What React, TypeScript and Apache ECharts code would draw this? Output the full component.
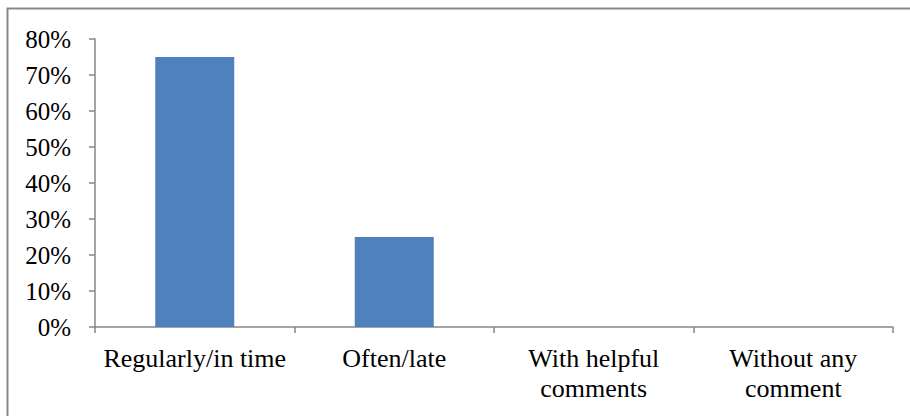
import React, { useEffect, useRef } from "react";
import * as echarts from "echarts";

const categories = ["Regularly/in time", "Often/late", "With helpful\ncomments", "Without any\ncomment"];
const values = [75, 25, 0, 0];
const yMin = 0;
const yMax = 80;
const yInterval = 10;

export default function App() {
  const ref = useRef<HTMLDivElement>(null);
  useEffect(() => {
    if (!ref.current) return;
    const chart = echarts.init(ref.current, undefined, { renderer: "svg" });
    const font = "'Liberation Serif', 'Times New Roman', serif";
    chart.setOption({
      animation: false,
      backgroundColor: "#ffffff",
      graphic: [
        {
          type: "rect",
          shape: { x: 7.5, y: 8.5, width: 960, height: 460 },
          style: { fill: "none", stroke: "#878787", lineWidth: 2 },
          silent: true,
        },
      ],
      grid: { left: 95, right: 17, top: 39, bottom: 89, containLabel: false },
      xAxis: {
        type: "category",
        data: categories,
        axisLine: { show: true, lineStyle: { color: "#878787", width: 1.5 } },
        axisTick: { show: true, length: 6, lineStyle: { color: "#878787", width: 1.5 } },
        axisLabel: {
          color: "#000",
          fontFamily: font,
          fontSize: 26,
          lineHeight: 30,
          margin: 16,
          interval: 0,
        },
        splitLine: { show: false },
      },
      yAxis: {
        type: "value",
        min: yMin,
        max: yMax,
        interval: yInterval,
        axisLine: { show: true, lineStyle: { color: "#878787", width: 1.5 } },
        axisTick: { show: true, length: 6, lineStyle: { color: "#878787", width: 1.5 } },
        axisLabel: {
          color: "#000",
          fontFamily: font,
          fontSize: 25,
          margin: 24,
          formatter: "{value}%",
        },
        splitLine: { show: false },
      },
      series: [
        {
          type: "bar",
          data: values,
          barWidth: 79,
          itemStyle: { color: "#4F81BD" },
        },
      ],
    });
    return () => chart.dispose();
  }, []);
  return (
    <div
      ref={ref}
      style={{ position: "fixed", left: 0, top: 0, width: 910, height: 416 }}
    />
  );
}
